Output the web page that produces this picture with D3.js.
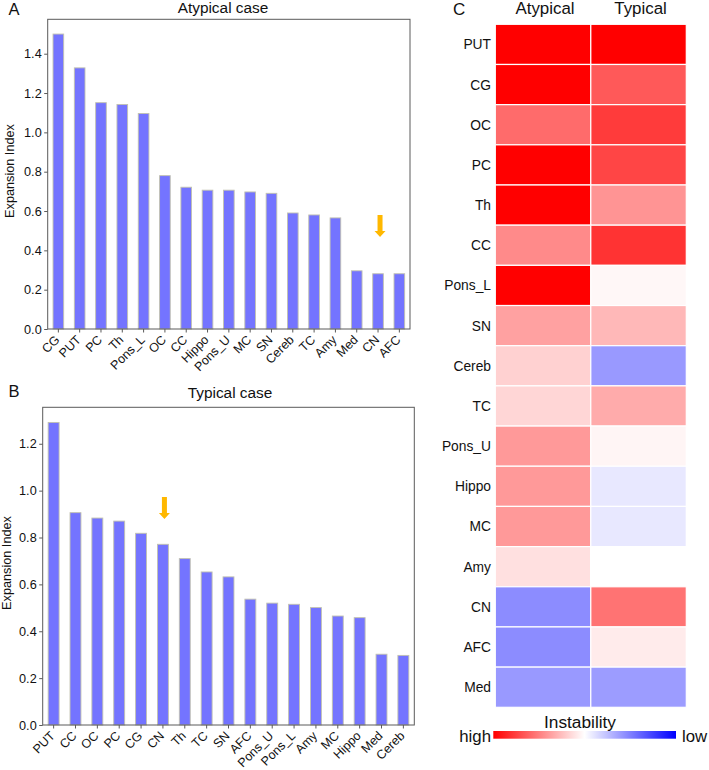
<!DOCTYPE html>
<html><head><meta charset="utf-8">
<script src="https://cdn.jsdelivr.net/npm/d3@7"></script>
<style>body{margin:0;background:#fff}svg{display:block;font-family:"Liberation Sans",Arial,sans-serif}</style>
</head><body>
<script>
const catsA = ["CG","PUT","PC","Th","Pons_L","OC","CC","Hippo","Pons_U","MC","SN","Cereb","TC","Amy","Med","CN","AFC"];
const valsA = [1.50,1.328,1.151,1.142,1.096,0.780,0.721,0.706,0.706,0.697,0.690,0.590,0.580,0.565,0.296,0.281,0.281];
const catsB = ["PUT","CC","OC","PC","CG","CN","Th","TC","SN","AFC","Pons_U","Pons_L","Amy","MC","Hippo","Med","Cereb"];
const valsB = [1.291,0.906,0.883,0.870,0.818,0.771,0.710,0.653,0.632,0.537,0.520,0.515,0.501,0.465,0.458,0.302,0.297];
const ticksA = [0,0.2,0.4,0.6,0.8,1.0,1.2,1.4];
const ticksB = [0,0.2,0.4,0.6,0.8,1.0,1.2];
const heatRows = ["PUT","CG","OC","PC","Th","CC","Pons_L","SN","Cereb","TC","Pons_U","Hippo","MC","Amy","CN","AFC","Med"];
const heatCols = ["Atypical","Typical"];
const heatAtyp = [1,1,0.58,1,1,0.46,1,0.37,0.18,0.16,0.40,0.40,0.40,0.12,-0.45,-0.45,-0.40];
const heatTyp = [1,0.65,0.77,0.73,0.42,0.80,0.03,0.28,-0.40,0.33,0.04,-0.09,-0.09,0.0,0.55,0.08,-0.39];

const W=709,H=770;
const svg=d3.select("body").append("svg").attr("width",W).attr("height",H);
const frameCol="#5a5a5a";

function barPanel(o){
  const g=svg.append("g");
  const x=d3.scaleBand().domain(o.cats).range([o.left,o.right]).paddingInner(0.5).paddingOuter(0.25);
  const y=d3.scaleLinear().domain([0,d3.max(o.vals)*1.05]).range([o.bottom,o.top]);
  g.selectAll("rect.bar").data(o.vals).join("rect").attr("class","bar")
    .attr("x",(d,i)=>x(o.cats[i])).attr("width",x.bandwidth())
    .attr("y",d=>y(d)).attr("height",d=>o.bottom-y(d))
    .attr("fill","#7474ff").attr("stroke","#c2c2b0").attr("stroke-width",0.9);
  g.append("rect").attr("x",o.left).attr("y",o.top).attr("width",o.right-o.left).attr("height",o.bottom-o.top)
    .attr("fill","none").attr("stroke",frameCol).attr("stroke-width",1);
  const ya=g.append("g").attr("transform",`translate(${o.left},0)`)
    .call(d3.axisLeft(y).tickValues(o.ticks).tickFormat(d3.format(".1f")).tickSize(3.5).tickPadding(2.5));
  ya.select(".domain").remove();
  ya.selectAll("line").attr("stroke",frameCol);
  ya.selectAll("text").attr("font-size",12.7).attr("fill","#111").attr("font-family","Liberation Sans, Arial, sans-serif");
  const xa=g.append("g").attr("transform",`translate(0,${o.bottom})`)
    .call(d3.axisBottom(x).tickSize(3.5).tickFormat(""));
  xa.select(".domain").remove();
  xa.selectAll("line").attr("stroke",frameCol);
  g.selectAll("text.xl").data(o.cats).join("text").attr("class","xl")
    .attr("transform",d=>`translate(${x(d)+x.bandwidth()/2+2},${o.bottom+11.5}) rotate(-45)`)
    .attr("text-anchor","end").attr("font-size",12.5).attr("fill","#111").text(d=>d);
  g.append("text").attr("x",o.titleX).attr("y",o.titleY).attr("text-anchor","middle")
    .attr("font-size",15.4).attr("fill","#111").text(o.title);
  g.append("text").attr("transform",`translate(${o.ylabX},${o.ylabY}) rotate(-90)`).attr("text-anchor","middle")
    .attr("font-size",12.7).attr("fill","#111").text("Expansion Index");
  g.append("text").attr("x",o.letterX).attr("y",o.letterY).attr("font-size",16.5).attr("fill","#111").text(o.letter);
  const ax=x(o.arrowCat)+x.bandwidth()/2+o.arrowDx;
  const ay0=o.arrowY0, ay1=o.arrowY1;
  g.append("path").attr("d",`M${ax-2.5},${ay0}L${ax+2.5},${ay0}L${ax+2.5},${ay1-6}L${ax+5.5},${ay1-6}L${ax},${ay1}L${ax-5.5},${ay1-6}L${ax-2.5},${ay1-6}Z`)
    .attr("fill","#ffb800");
}

barPanel({cats:catsA,vals:valsA,ticks:ticksA,left:47.7,right:410,top:19.3,bottom:329,
  title:"Atypical case",titleX:223,titleY:13,ylabX:13.5,ylabY:171,letter:"A",letterX:8.5,letterY:15,
  arrowCat:"CN",arrowDx:2,arrowY0:215,arrowY1:237});
barPanel({cats:catsB,vals:valsB,ticks:ticksB,left:42.7,right:414.3,top:407.3,bottom:725,
  title:"Typical case",titleX:230,titleY:398,ylabX:10.5,ylabY:563,letter:"B",letterX:8.5,letterY:397,
  arrowCat:"CN",arrowDx:1.5,arrowY0:497,arrowY1:519});

const hx=d3.scaleBand().domain(heatCols).range([495.3,686.3]);
const hy=d3.scaleBand().domain(heatRows).range([24.3,707.3]);
const col=d3.scaleLinear().domain([-1,0,1]).range(["#0000ff","#ffffff","#ff0000"]);
const cells=[];
heatRows.forEach((r,i)=>{cells.push({r,c:"Atypical",v:heatAtyp[i]});cells.push({r,c:"Typical",v:heatTyp[i]});});
svg.append("g").selectAll("rect").data(cells).join("rect")
  .attr("x",d=>hx(d.c)).attr("y",d=>hy(d.r)).attr("width",hx.bandwidth()).attr("height",hy.bandwidth())
  .attr("fill",d=>col(d.v)).attr("stroke","#ffffff").attr("stroke-width",1.2);
svg.append("g").selectAll("text").data(heatRows).join("text")
  .attr("x",491).attr("y",d=>hy(d)+hy.bandwidth()/2).attr("dy","0.36em").attr("text-anchor","end")
  .attr("font-size",13.8).attr("fill","#111").text(d=>d);
svg.append("g").selectAll("text").data(heatCols).join("text")
  .attr("x",d=>hx(d)+hx.bandwidth()/2+2).attr("y",14).attr("text-anchor","middle")
  .attr("font-size",16.9).attr("fill","#111").text(d=>d);
svg.append("text").attr("x",453).attr("y",14.5).attr("font-size",17).attr("fill","#111").text("C");

const defs=svg.append("defs");
const lg=defs.append("linearGradient").attr("id","cb").attr("x1","0%").attr("x2","100%");
[[0,"#ff0000"],[0.5,"#ffffff"],[1,"#0000ff"]].forEach(s=>lg.append("stop").attr("offset",s[0]*100+"%").attr("stop-color",s[1]));
svg.append("rect").attr("x",493.3).attr("y",731).attr("width",182.7).attr("height",7.7).attr("fill","url(#cb)");
svg.append("text").attr("x",580).attr("y",728).attr("text-anchor","middle").attr("font-size",17.3).attr("fill","#111").text("Instability");
svg.append("text").attr("x",491).attr("y",741.5).attr("text-anchor","end").attr("font-size",16.8).attr("fill","#111").text("high");
svg.append("text").attr("x",682).attr("y",741.5).attr("font-size",16.8).attr("fill","#111").text("low");
</script>
</body></html>
